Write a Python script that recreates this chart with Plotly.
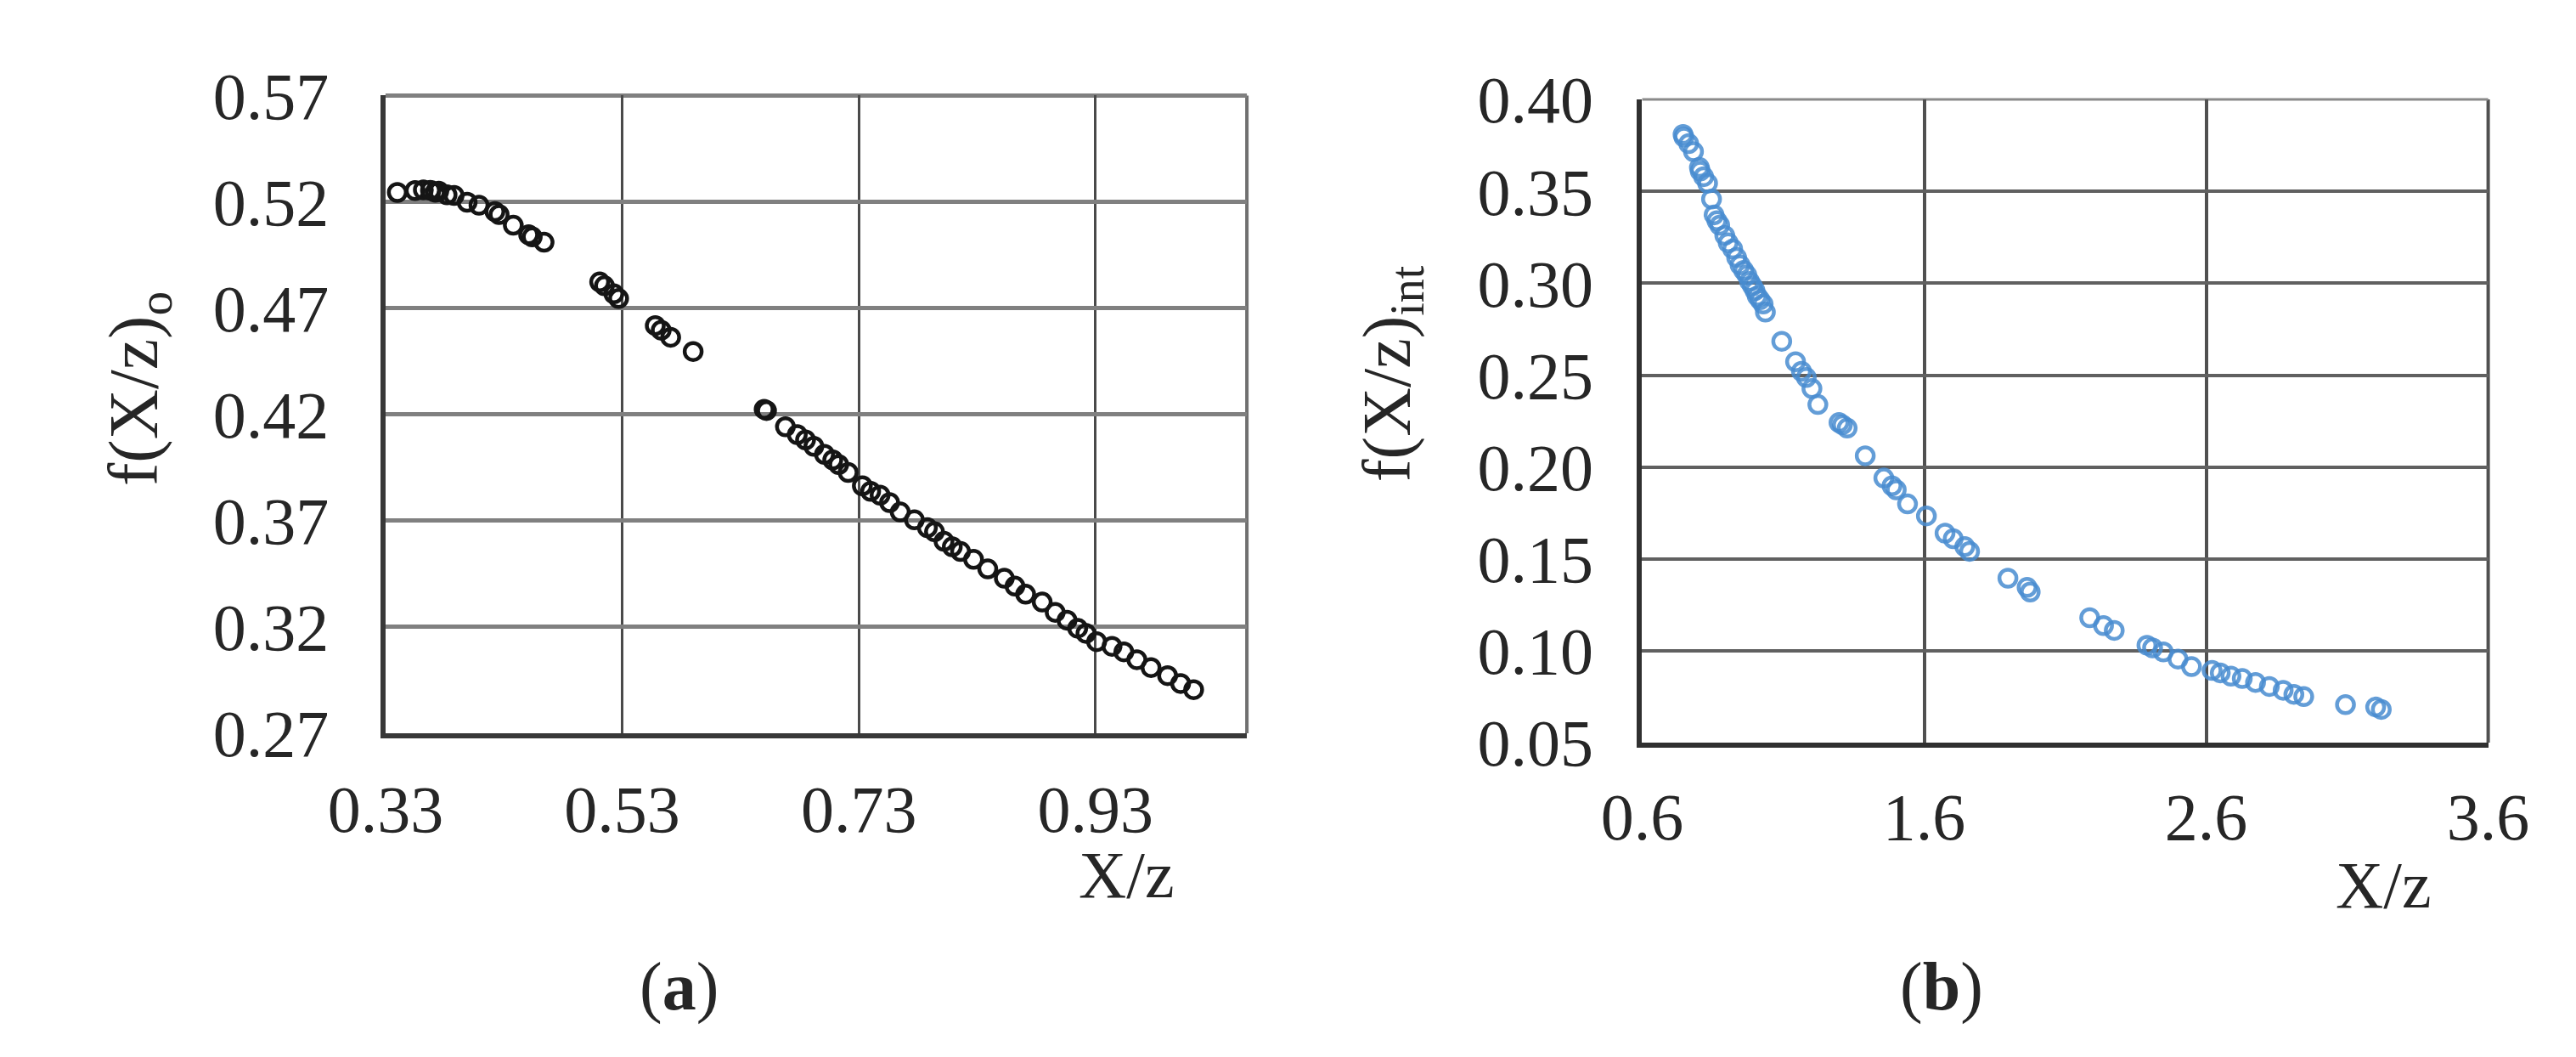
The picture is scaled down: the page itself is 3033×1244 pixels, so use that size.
"""Two scatter panels: f(X/z)o and f(X/z)int against X/z."""

import plotly.graph_objects as go

# ---- data ---------------------------------------------------------------------

# panel (a): f(X/z)o
xz_a = [0.340, 0.355, 0.362, 0.368, 0.372, 0.375, 0.382, 0.388, 0.399, 0.409,
        0.4225, 0.426, 0.438, 0.451, 0.454, 0.464,
        0.511, 0.515, 0.523, 0.527, 0.558, 0.563, 0.571, 0.590,
        0.650, 0.652, 0.668, 0.678, 0.685, 0.692, 0.701, 0.708, 0.713, 0.721,
        0.733, 0.740, 0.748, 0.756, 0.765, 0.777, 0.788, 0.794, 0.802, 0.809,
        0.816, 0.827, 0.839, 0.853, 0.862, 0.871, 0.885, 0.896, 0.906, 0.915,
        0.922, 0.931, 0.944, 0.954, 0.965, 0.977, 0.991, 1.002, 1.013]
f_o = [0.5244, 0.5253, 0.5256, 0.5254, 0.5245, 0.5250, 0.5233, 0.5230, 0.5198, 0.5184,
       0.5154, 0.5140, 0.5090, 0.5045, 0.5035, 0.5010,
       0.4823, 0.4805, 0.4767, 0.4745, 0.4618, 0.4596, 0.4563, 0.4496,
       0.4224, 0.4218, 0.4142, 0.4105, 0.4080, 0.4050, 0.4012, 0.3986, 0.3964, 0.3927,
       0.3864, 0.3838, 0.3820, 0.3785, 0.3741, 0.3704, 0.3667, 0.3648, 0.3603, 0.3577,
       0.3555, 0.3518, 0.3473, 0.3429, 0.3392, 0.3354, 0.3317, 0.3269, 0.3232, 0.3194,
       0.3170, 0.3131, 0.3109, 0.3083, 0.3046, 0.3009, 0.2971, 0.2934, 0.2905]

# panel (b): f(X/z)int
xz_b = [0.745, 0.748, 0.765, 0.782, 0.803, 0.806, 0.818, 0.832, 0.846, 0.855,
        0.865, 0.875, 0.893, 0.905, 0.921, 0.935, 0.947, 0.960, 0.971, 0.981,
        0.991, 1.000, 1.008, 1.018, 1.029, 1.037,
        1.095, 1.144, 1.165, 1.182, 1.202, 1.223, 1.298, 1.310, 1.327,
        1.391, 1.457, 1.486, 1.501, 1.541, 1.608, 1.674, 1.703, 1.744, 1.761,
        1.897, 1.965, 1.976,
        2.187, 2.236, 2.274, 2.390, 2.410, 2.448, 2.500, 2.548, 2.621, 2.650,
        2.688, 2.728, 2.775, 2.824, 2.873, 2.911, 2.946, 3.094, 3.201, 3.221]
f_int = [0.3810, 0.3795, 0.3760, 0.3716, 0.3630, 0.3610, 0.3580, 0.3544, 0.3458, 0.3372,
         0.3340, 0.3316, 0.3260, 0.3220, 0.3187, 0.3140, 0.3100, 0.3070, 0.3045, 0.3010,
         0.2985, 0.2960, 0.2930, 0.2910, 0.2887, 0.2843,
         0.2684, 0.2573, 0.2521, 0.2487, 0.2427, 0.2340, 0.2242, 0.2230, 0.2212,
         0.2061, 0.1940, 0.1898, 0.1876, 0.1799, 0.1734, 0.1640, 0.1610, 0.1567, 0.1541,
         0.1395, 0.1345, 0.1320,
         0.1180, 0.1137, 0.1111, 0.1030, 0.1016, 0.0994, 0.0955, 0.0914, 0.0893, 0.0880,
         0.0862, 0.0849, 0.0828, 0.0806, 0.0785, 0.0763, 0.0751, 0.0707, 0.0694, 0.0681]

ticks_a_x = [0.33, 0.53, 0.73, 0.93]
ticks_a_y = [0.27, 0.32, 0.37, 0.42, 0.47, 0.52, 0.57]
ticks_b_x = [0.6, 1.6, 2.6, 3.6]
ticks_b_y = [0.05, 0.10, 0.15, 0.20, 0.25, 0.30, 0.35, 0.40]

# ---- styling ------------------------------------------------------------------

FONT = "Liberation Serif"
TXT = "#262626"
TICK_FONT = dict(family=FONT, size=78, color=TXT)

fig = go.Figure()

fig.add_trace(go.Scatter(
    x=xz_a, y=f_o, mode="markers", xaxis="x", yaxis="y",
    marker=dict(symbol="circle-open", size=20, color="#151515", line=dict(width=4.5)),
    showlegend=False,
))
fig.add_trace(go.Scatter(
    x=xz_b, y=f_int, mode="markers", xaxis="x2", yaxis="y2",
    marker=dict(symbol="circle-open", size=20, color="rgb(72,140,208)",
                line=dict(width=4.5), opacity=0.85),
    showlegend=False,
))

axis_common = dict(ticks="", tickfont=TICK_FONT, showline=True, zeroline=False, showgrid=True)

fig.update_layout(
    width=3033, height=1244, autosize=False,
    margin=dict(l=0, r=0, t=0, b=0),
    paper_bgcolor="white", plot_bgcolor="white",
    font=dict(family=FONT, color=TXT),
    xaxis=dict(
        domain=[0.1296, 0.4774], anchor="y", range=[0.33, 1.058],
        tickvals=ticks_a_x, ticktext=[f"{v:.2f}" for v in ticks_a_x],
        linecolor="#383838", linewidth=6, gridcolor="#4a4a4a", gridwidth=3,
        ticklabelstandoff=16, **axis_common,
    ),
    yaxis=dict(
        domain=[0.2982, 0.9469], anchor="x", range=[0.27, 0.57],
        tickvals=ticks_a_y, ticktext=[f"{v:.2f}" for v in ticks_a_y],
        linecolor="#383838", linewidth=6, gridcolor="#808080", gridwidth=5,
        ticklabelstandoff=45, **axis_common,
    ),
    xaxis2=dict(
        domain=[0.637, 0.9786], anchor="y2", range=[0.6, 3.6],
        tickvals=ticks_b_x, ticktext=[f"{v:.1f}" for v in ticks_b_x],
        linecolor="#303030", linewidth=6, gridcolor="#505050", gridwidth=4,
        ticklabelstandoff=14, **axis_common,
    ),
    yaxis2=dict(
        domain=[0.2886, 0.9429], anchor="x2", range=[0.05, 0.40],
        tickvals=ticks_b_y, ticktext=[f"{v:.2f}" for v in ticks_b_y],
        linecolor="#303030", linewidth=6, gridcolor="#606060", gridwidth=4,
        ticklabelstandoff=36, **axis_common,
    ),
)

# frame lines on the top and right edges
frame = [
    ("x", "y", dict(x0=1, x1=1, y0=0, y1=1), "#707070", 4),
    ("x", "y", dict(x0=0, x1=1, y0=1, y1=1), "#808080", 5),
    ("x2", "y2", dict(x0=1, x1=1, y0=0, y1=1), "#505050", 4),
    ("x2", "y2", dict(x0=0, x1=1, y0=1, y1=1), "#8a8a8a", 3),
]
for xr, yr, pos, col, w in frame:
    fig.add_shape(type="line", xref=f"{xr} domain", yref=f"{yr} domain",
                  line=dict(color=col, width=w), layer="below", **pos)

# axis titles and panel labels
labels = [
    ("X/z", 0.4290, 0.1540, 0, 78),
    ("X/z", 0.9364, 0.1440, 0, 78),
    ("f(X/z)<sub>o</sub>", 0.030, 0.6487, -90, 82),
    ("f(X/z)<sub>int</sub>", 0.5358, 0.664, -90, 80),
    ("(<b>a</b>)", 0.248, 0.0400, 0, 80),
    ("(<b>b</b>)", 0.758, 0.0400, 0, 80),
]
for text, x, y, ang, size in labels:
    fig.add_annotation(text=text, x=x, y=y, xref="paper", yref="paper",
                       xanchor="center", yanchor="middle", textangle=ang,
                       showarrow=False, font=dict(family=FONT, size=size, color=TXT))

fig.write_html("out.html")
